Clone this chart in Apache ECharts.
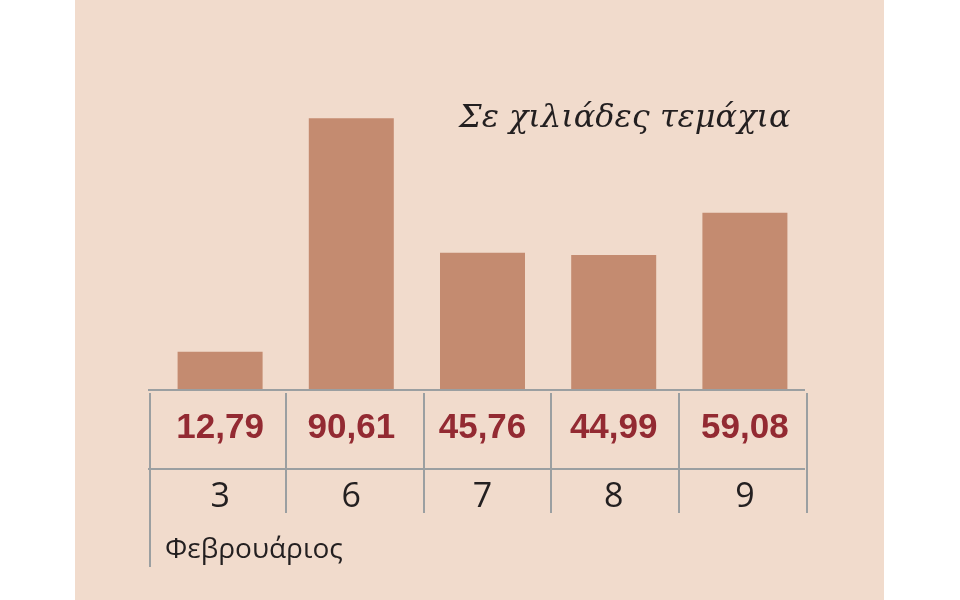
<!DOCTYPE html>
<html>
<head>
<meta charset="utf-8">
<script src="https://cdn.jsdelivr.net/npm/echarts@6/dist/echarts.min.js"></script>
<style>
html,body{margin:0;padding:0;background:#fff;}
#c{width:960px;height:600px;}
</style>
</head>
<body>
<div id="c"></div>
<script>
const categories = ['3', '6', '7', '8', '9'];
const values = [12.79, 90.61, 45.76, 44.99, 59.08];
const titleText = 'Σε χιλιάδες τεμάχια';
const monthText = 'Φεβρουάριος';

const valueLabels = values.map(v => v.toFixed(2).replace('.', ','));

const lineColor = '#9b9fa1';
const lineStyle = { stroke: lineColor, lineWidth: 2 };
function hLine(x1, x2, y) {
  return { type: 'line', z: 100, shape: { x1: x1, y1: y, x2: x2, y2: y }, style: lineStyle };
}
function vLine(x, y1, y2) {
  return { type: 'line', z: 100, shape: { x1: x, y1: y1, x2: x, y2: y2 }, style: lineStyle };
}

const chart = echarts.init(document.getElementById('c'));
chart.setOption({
  animation: false,
  backgroundColor: '#ffffff',
  title: [
    {
      text: titleText,
      left: 454, top: 98,
      textStyle: { fontFamily: 'DejaVu Serif', fontStyle: 'italic', fontWeight: 'normal', fontSize: 32, color: '#231f20' }
    },
    {
      text: monthText,
      left: 160, top: 531,
      textStyle: { fontFamily: 'Open Sans', fontWeight: 'normal', fontSize: 28, color: '#231f20' }
    }
  ],
  grid: { left: 154.5, right: 149.5, top: 90, bottom: 210 },
  xAxis: [
    {
      type: 'category',
      data: categories,
      position: 'bottom',
      axisLine: { show: false },
      axisTick: { show: false },
      axisLabel: {
        margin: 107, verticalAlign: 'middle',
        fontFamily: 'Open Sans', fontSize: 34, color: '#231f20'
      }
    },
    {
      type: 'category',
      data: valueLabels,
      position: 'bottom',
      axisLine: { show: false },
      axisTick: { show: false },
      axisLabel: {
        margin: 38, verticalAlign: 'middle',
        fontFamily: 'Liberation Sans', fontWeight: 'bold', fontSize: 35, color: '#932a32'
      }
    }
  ],
  yAxis: {
    type: 'value', min: 0, max: 100,
    show: false,
    splitLine: { show: false }
  },
  series: [{
    type: 'bar',
    data: values,
    barWidth: 85,
    itemStyle: { color: '#c48b70' }
  }],
  graphic: [
    { type: 'rect', z: -100, shape: { x: 75, y: 0, width: 809, height: 600 }, style: { fill: '#f1dbcc' } },
    hLine(148, 805, 390),
    hLine(148, 805, 469),
    vLine(150, 393, 567),
    vLine(286, 393, 513),
    vLine(424, 393, 513),
    vLine(551, 393, 513),
    vLine(679, 393, 513),
    vLine(807, 393, 513)
  ]
});
</script>
</body>
</html>
